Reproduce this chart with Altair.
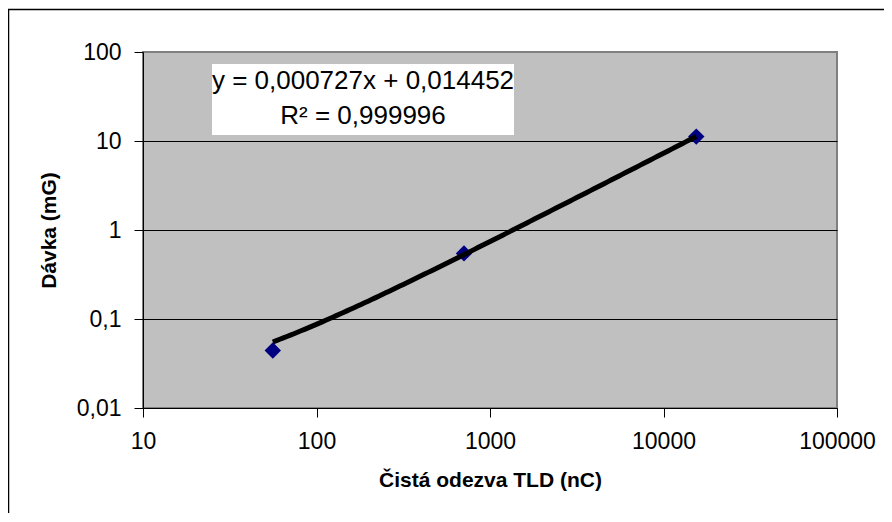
import math
import altair as alt
import pandas as pd

# ---- data ----
x_vals = [56, 708, 15450]          # Čistá odezva TLD (nC)
y_vals = [0.0443, 0.546, 11.2]     # Dávka (mG)
slope = 0.000727
intercept = 0.014452
eq_text = "y = 0,000727x + 0,014452"
r2_text = "R² = 0,999996"
x_ticks = [10, 100, 1000, 10000, 100000]
y_ticks = [0.01, 0.1, 1, 10, 100]
x_title = "Čistá odezva TLD (nC)"
y_title = "Dávka (mG)"

W, H = 694, 356
FONT = "Liberation Sans"

points_df = pd.DataFrame({"x": x_vals, "y": y_vals})

xscale = alt.Scale(type="log", domain=[x_ticks[0], x_ticks[-1]])
yscale = alt.Scale(type="log", domain=[y_ticks[0], y_ticks[-1]])

xaxis = alt.Axis(
    values=x_ticks, format="d", title=x_title, grid=False,
    labelFlush=False, labelOverlap=False, tickSize=9, labelPadding=13,
    labelFontSize=23, titleFontSize=21, titleFontWeight="bold", titlePadding=16,
)
yaxis = alt.Axis(
    values=y_ticks, title=y_title, grid=True,
    labelExpr="replace(format(datum.value, '~g'), '.', ',')",
    gridColor={"condition": {"test": "datum.value >= 100", "value": "#808080"}, "value": "black"},
    gridWidth=1, labelFlush=False, labelOverlap=False, tickSize=9, labelPadding=13,
    labelFontSize=23, titleFontSize=21, titleFontWeight="bold", titlePadding=17,
)

# outer frame
frame = alt.Chart(alt.Data(values=[{}])).mark_rect(
    filled=False, stroke="black", strokeWidth=1.5
).encode(x=alt.value(-134.5), x2=alt.value(900), y=alt.value(-42.5), y2=alt.value(700))

points = alt.Chart(points_df).mark_point(
    shape="diamond", filled=True, size=270, color="#000080", opacity=1
).encode(
    x=alt.X("x:Q", scale=xscale, axis=xaxis),
    y=alt.Y("y:Q", scale=yscale, axis=yaxis),
)

a = math.log10(min(x_vals))
b = math.log10(max(x_vals))
step = (b - a) / 120
trend = alt.Chart(alt.sequence(a, b + step / 2, step, as_="t")).transform_calculate(
    x="pow(10, datum.t)",
    y=f"{slope} * pow(10, datum.t) + {intercept}",
).mark_line(color="black", strokeWidth=5, strokeCap="butt").encode(
    x=alt.X("x:Q", scale=xscale, axis=xaxis),
    y=alt.Y("y:Q", scale=yscale, axis=yaxis),
)

box = alt.Chart(alt.Data(values=[{}])).mark_rect(color="white").encode(
    x=alt.value(69), x2=alt.value(371), y=alt.value(12), y2=alt.value(83)
)
eq1 = alt.Chart(pd.DataFrame({"t": [eq_text]})).mark_text(
    font=FONT, fontSize=26, align="center", baseline="alphabetic", color="black"
).encode(x=alt.value(220), y=alt.value(37), text="t:N")
eq2 = alt.Chart(pd.DataFrame({"t": [r2_text]})).mark_text(
    font=FONT, fontSize=26, align="center", baseline="alphabetic", color="black"
).encode(x=alt.value(220), y=alt.value(72), text="t:N")

chart = alt.layer(frame, points, trend, box, eq1, eq2).properties(
    width=W, height=H,
    padding={"left": 135, "top": 44, "right": 876 - 135 - W, "bottom": 505 - 44 - H},
    autosize=alt.AutoSizeParams(type="none"),
).configure_view(
    fill="#C0C0C0", stroke="#808080", strokeWidth=2
).configure_axis(
    domainColor="black", tickColor="black", labelColor="black", titleColor="black",
    labelFont=FONT, titleFont=FONT, domainWidth=1, tickWidth=1,
)

chart.save("out.html", embed_options={"renderer": "svg", "actions": False})
